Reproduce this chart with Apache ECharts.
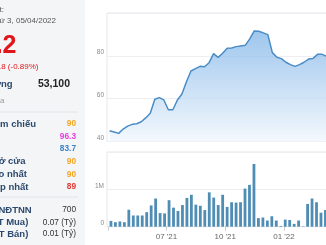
<!DOCTYPE html>
<html><head><meta charset="utf-8">
<script src="https://cdn.jsdelivr.net/npm/echarts@6/dist/echarts.min.js"></script>
<style>html,body{margin:0;padding:0;background:#fff;overflow:hidden}#c{width:326px;height:245px}</style>
</head><body><div id="c"></div>
<script>
// weekly dates
const weekDates = ['2021-04-05','2021-04-12','2021-04-19','2021-04-26','2021-05-03','2021-05-10','2021-05-17','2021-05-24','2021-05-31','2021-06-07','2021-06-14','2021-06-21','2021-06-28','2021-07-05','2021-07-12','2021-07-19','2021-07-26','2021-08-02','2021-08-09','2021-08-16','2021-08-23','2021-08-30','2021-09-06','2021-09-13','2021-09-20','2021-09-27','2021-10-04','2021-10-11','2021-10-18','2021-10-25','2021-11-01','2021-11-08','2021-11-15','2021-11-22','2021-11-29','2021-12-06','2021-12-13','2021-12-20','2021-12-27','2022-01-03','2022-01-10','2022-01-17','2022-01-24','2022-01-31','2022-02-07','2022-02-14','2022-02-21','2022-02-28','2022-03-07','2022-03-14','2022-03-21','2022-03-28','2022-04-04'];
// closing price (thousand VND)
const prices = [45.0,44.4,43.8,45.8,47.2,48.0,48.3,49.2,51.0,53.2,59.7,60.5,59.4,54.8,54.8,59.4,62.2,67.9,72.9,74.0,75.1,74.9,76.8,81.0,79.3,81.2,83.5,83.7,84.3,84.6,84.9,87.9,91.6,91.5,90.7,89.9,81.5,79.3,78.7,77.0,75.9,75.1,75.9,77.0,78.5,78.8,80.7,80.7,79.8,82.0,85.0,88.0,89.2];
// weekly volume (shares)
const volumes = [155000,120000,140000,120000,455000,300000,300000,300000,390000,570000,755000,365000,355000,710000,510000,420000,580000,770000,855000,590000,560000,445000,920000,780000,580000,855000,530000,655000,645000,655000,1020000,1120000,1680000,230000,245000,165000,280000,165000,20000,190000,180000,75000,165000,10000,610000,755000,655000,375000,450000,500000,620000,400000,53100];
const priceTicks = [40,60,80,100];
const volTicks = [0,1000000,2000000];
const axisStart = '2021-04-01', axisEnd = '2022-04-06';
// info panel
const infoHead = {updated:'Cập nhật:', date:'Thứ 3, 05/04/2022', price:'89.2', change:'-0.8 (-0.89%)', volLabel:'Khối lượng', volValue:'53,100', note:'Giao dịch hôm qua'};
const rowLabels = ['Giá tham chiếu','Giá trần','Giá sàn','Giá mở cửa','Giá cao nhất','Giá thấp nhất'];
const rowValues = ['90','96.3','83.7','90','90','89'];
const foreignLabels = ['KL GD NĐTNN','(GT Mua)','(GT Bán)'];
const foreignValues = ['700','0.07 (Tỷ)','0.01 (Tỷ)'];

const FONT = '"Liberation Sans", Arial, sans-serif';
const LBL = '#2c4a6e';
const rowColors = ['#f5a623','#ee3be8','#3b82c4','#f5a623','#f5a623','#e53935'];
const rowY = [124,136.5,149,161.8,174.8,187];
const rowLabelEnd = [36,-4,-4,25.5,27,28.5];
const fY = [210,222.5,234];
const fLabelEnd = [31.7,28.3,28.3];

const g = [];
g.push({type:'rect', shape:{x:0,y:0,width:85,height:245}, style:{fill:'#f4f5f7'}, z:0});
g.push({type:'line', shape:{x1:0,y1:112,x2:78,y2:112}, style:{stroke:'#e2e4e8',lineWidth:1}});
g.push({type:'line', shape:{x1:0,y1:197,x2:78,y2:197}, style:{stroke:'#e2e4e8',lineWidth:1}});
function txt(t,x,y,fill,font,align){g.push({type:'text',x:x,y:y,style:{text:t,fill:fill,font:font,align:align||'right',verticalAlign:'middle'}});}
txt(infoHead.updated,4,10,'#555','8px '+FONT);
txt(infoHead.date,56,21,'#555','8px '+FONT);
txt(infoHead.price,16.5,46,'#e0161b','bold 25px '+FONT);
txt(infoHead.change,38.5,67,'#e0161b','8px '+FONT);
txt(infoHead.volLabel,12.5,84,LBL,'bold 9.5px '+FONT);
txt(infoHead.volValue,70,84,'#222','bold 10.5px '+FONT);
txt(infoHead.note,4.5,100.5,'#9a9a9a','8px '+FONT);
rowLabels.forEach((l,i)=>{txt(l,rowLabelEnd[i],rowY[i],LBL,'bold 9.5px '+FONT);txt(rowValues[i],76,rowY[i],rowColors[i],'bold 8.3px '+FONT);});
foreignLabels.forEach((l,i)=>{txt(l,fLabelEnd[i],fY[i],LBL,'bold 9.5px '+FONT);txt(foreignValues[i],76,fY[i],'#333','8.3px '+FONT);});

const priceData = weekDates.map((d,i)=>[d,prices[i]]);
const volData = weekDates.map((d,i)=>[d,volumes[i]]);
const Q = 3600*24*1000*91;
const startParts = axisStart.split('-').map(Number);
const startTs = new Date(startParts[0],startParts[1]-1,startParts[2]).getTime();
const chart = echarts.init(document.getElementById('c'));
chart.setOption({
  animation:false,
  textStyle:{fontFamily:FONT},
  graphic:g,
  grid:[
    {left:107,top:13,width:239,height:128.5,show:true,outerBoundsMode:'none',containLabel:false,borderColor:'#e4e7eb',borderWidth:1,backgroundColor:'rgba(0,0,0,0)'},
    {left:107,top:152,width:239,height:74.7,show:true,outerBoundsMode:'none',containLabel:false,borderColor:'#e4e7eb',borderWidth:1,backgroundColor:'rgba(0,0,0,0)'}
  ],
  xAxis:[
    {type:'time',gridIndex:0,min:axisStart,max:axisEnd,minInterval:Q,maxInterval:Q,axisLine:{show:false},axisTick:{show:false},axisLabel:{show:false},splitLine:{show:false}},
    {type:'time',gridIndex:1,min:axisStart,max:axisEnd,minInterval:Q,maxInterval:Q,
     axisLine:{show:true,lineStyle:{color:'#e4e7eb'}},
     axisTick:{show:true,length:4,lineStyle:{color:'#c8ccd2'}},
     splitLine:{show:false},
     axisLabel:{fontSize:8,color:'#666',margin:6,showMinLabel:false,hideOverlap:false,
       formatter:function(v){if(v<startTs+86400000)return '';const d=new Date(v);const m=d.getMonth()+1;return (m<10?'0':'')+m+" '"+String(d.getFullYear()).slice(2);}}}
  ],
  yAxis:[
    {type:'value',gridIndex:0,min:priceTicks[0],max:priceTicks[priceTicks.length-1],interval:priceTicks[1]-priceTicks[0],
     axisLine:{show:false},axisTick:{show:false},
     splitLine:{lineStyle:{color:'#eceef1'}},
     axisLabel:{fontSize:6.5,color:'#8a8a8a',margin:3,verticalAlign:'bottom',showMaxLabel:false}},
    {type:'value',gridIndex:1,min:volTicks[0],max:volTicks[volTicks.length-1],interval:volTicks[1]-volTicks[0],
     axisLine:{show:false},axisTick:{show:false},
     splitLine:{lineStyle:{color:'#eceef1'}},
     axisLabel:{fontSize:6.5,color:'#8a8a8a',margin:3,verticalAlign:'bottom',showMaxLabel:false,
       formatter:function(v){return v===0?'0':(v/1e6)+'M';}}}
  ],
  series:[
    {type:'line',xAxisIndex:0,yAxisIndex:0,data:priceData,symbol:'none',
     lineStyle:{color:'#4a8cc6',width:1.5},
     areaStyle:{origin:'start',color:new echarts.graphic.LinearGradient(0,0,0,1,[{offset:0,color:'#74ade5'},{offset:1,color:'#eef5fc'}])}},
    {type:'bar',xAxisIndex:1,yAxisIndex:1,data:volData,barWidth:2.8,itemStyle:{color:'#4f8db5'}}
  ]
});
</script></body></html>
